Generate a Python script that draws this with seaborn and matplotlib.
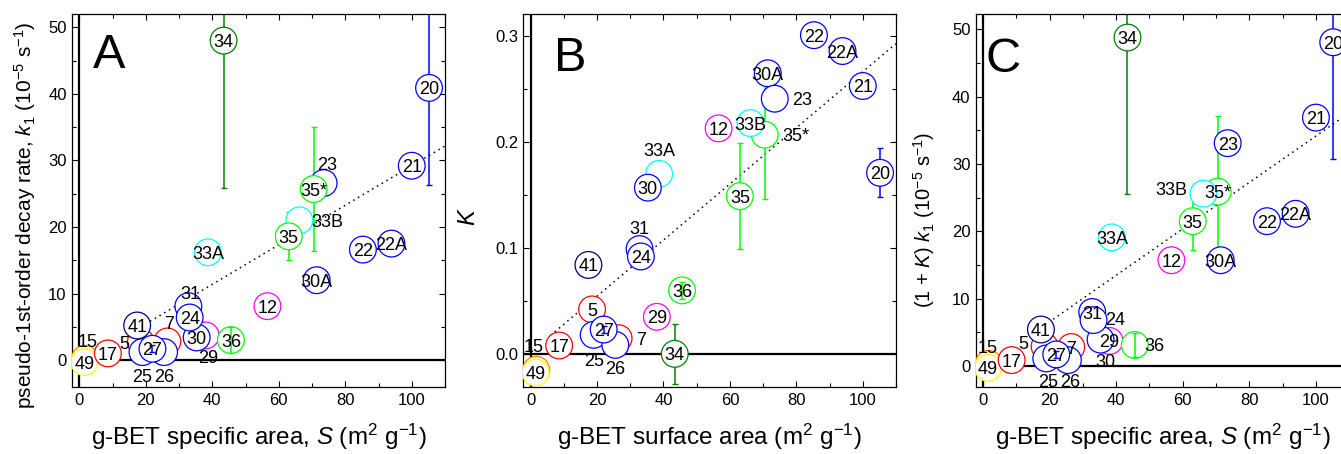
import numpy as np
import pandas as pd
import matplotlib
matplotlib.use("Agg")
import matplotlib.pyplot as plt
import seaborn as sns
from matplotlib.ticker import MultipleLocator, FormatStrFormatter

sns.set_theme(style="ticks", rc={
    "axes.edgecolor": "black", "text.color": "black", "axes.labelcolor": "black",
    "xtick.color": "black", "ytick.color": "black", "axes.linewidth": 0.9,
})
plt.rcParams['font.family'] = ['Liberation Sans', 'DejaVu Sans']
plt.rcParams['mathtext.fontset'] = 'custom'
plt.rcParams['mathtext.rm'] = 'Liberation Sans'
plt.rcParams['mathtext.it'] = 'Liberation Sans:italic'
plt.rcParams['mathtext.bf'] = 'Liberation Sans:bold'

# ---------------- data ----------------
sample_ids = ["15", "49", "17", "5", "7", "25", "26", "27", "41", "33A", "29", "30",
              "31", "24", "36", "12", "34", "22", "22A", "30A", "21", "20", "23",
              "35*", "33B", "35"]
sample_colors = ["#FF8000", "#FFFF00", "#FF0000", "#FF0000", "#FF0000", "#0000FF",
                 "#0000FF", "#0000FF", "#000080", "#00FFFF", "#FF00FF", "#0000FF",
                 "#0000FF", "#0000FF", "#00FF00", "#FF00FF", "#008000", "#0000FF",
                 "#0000FF", "#0000FF", "#0000FF", "#0000FF", "#0000FF",
                 "#00FF00", "#00FFFF", "#00FF00"]
surface_area = [1.7, 1.5, 8.6, 18.5, 26.5, 19.0, 25.5, 22.0, 17.4, 38.7, 38.0, 35.3,
                32.8, 33.2, 45.6, 56.6, 43.4, 85.3, 93.9, 71.4, 100.0, 105.2, 73.5,
                70.5, 66.2, 63.0]
# Panel A: pseudo-first-order decay rate k1 (1e-5 s^-1)
k1 = [0.2, -0.3, 1.0, 2.7, 2.8, 1.2, 1.2, 1.7, 5.2, 16.2, 3.7, 3.4,
      8.1, 6.4, 3.0, 8.1, 48.0, 16.6, 17.5, 12.0, 29.2, 40.9, 26.6,
      25.7, 21.0, 18.6]
k1_err = [0, 0, 0, 0, 0, 0, 0, 0.5, 0, 0, 0, 0,
          0, 0, 1.9, 0, 22.2, 0, 0, 0, 0, 14.6, 0,
          9.3, 0, 3.6]
# Panel B: K
K = [-0.015, -0.0176, 0.0079, 0.042, 0.0148, 0.018, 0.0085, 0.023, 0.084, 0.170,
     0.035, 0.157, 0.099, 0.092, 0.060, 0.213, 0.0, 0.301, 0.286, 0.265, 0.253,
     0.171, 0.241, 0.207, 0.218, 0.149]
K_err = [0, 0, 0, 0, 0, 0, 0, 0.003, 0, 0, 0, 0, 0, 0, 0.008, 0, 0.028, 0, 0, 0, 0,
         0.023, 0, 0.061, 0, 0.05]
# Panel C: (1 + K) k1 (1e-5 s^-1)
k1_total = [0.3, -0.3, 0.85, 2.9, 2.8, 1.1, 0.85, 1.7, 5.4, 19.1, 3.7, 3.9,
            8.0, 6.8, 3.1, 15.7, 48.8, 21.5, 22.6, 15.7, 36.9, 48.1, 33.1,
            25.9, 25.6, 21.5]
k1_total_err = [0, 0, 0, 0, 0, 0, 0, 0.5, 0, 0, 0, 0, 0, 0, 1.8, 0, 23.3, 0, 0, 0, 0,
                17.3, 0, 11.3, 0, 4.3]
# dotted linear fits: (slope, intercept, x_start, x_end)
fit_A = (0.297, -0.5, 17.0, 110.0)
fit_B = (0.00265, 0.0015, 6.0, 110.0)
fit_C = (0.345, -0.34, 17.0, 110.0)

# label offsets in pixels (dx right, dy down) -- layout only
offsets_A = {"23": (3, -20), "33B": (28, 0), "29": (3, 21), "31": (2, -14), "7": (2, -19),
             "5": (-17, 0), "25": (0, 23), "26": (0, 23), "15": (3, -18)}
offsets_B = {"23": (27, 0), "35*": (31, 0), "33A": (0, -24), "31": (0, -22), "25": (0, 25),
             "26": (0, 23), "7": (22, 0), "15": (-3, -24)}
offsets_C = {"33B": (-32, -5), "24": (22, -2), "30": (5, 21), "36": (20, 0), "5": (-21, -4),
             "25": (2, 22), "26": (2, 20), "15": (-1, -17)}

palette = dict(zip(sample_ids, sample_colors))

W, H = 1341, 454
fig = plt.figure(figsize=(W / 100, H / 100), dpi=100)
bottom = (H - 386.7) / H
height = 372.7 / H
axA = fig.add_axes([72 / W, bottom, 373 / W, height])
axB = fig.add_axes([523.3 / W, bottom, 372.7 / W, height])
axC = fig.add_axes([975.7 / W, bottom, 373.5 / W, height])


def draw(ax, yvals, yerrs, offsets, fit):
    slope, icpt, x0, x1 = fit
    xs = np.array([x0, x1])
    ax.plot(xs, slope * xs + icpt, ls=(0, (1, 2.6)), color="black", lw=1.1, zorder=1)
    ax.axhline(0, color="black", lw=1.6, zorder=1.5)
    ax.axvline(0, color="black", lw=1.6, zorder=1.5)
    for xi, yi, ei, sid in zip(surface_area, yvals, yerrs, sample_ids):
        if ei > 0:
            ax.errorbar(xi, yi, yerr=ei, fmt="none", ecolor=palette[sid], elinewidth=1.1,
                        capsize=2.5, capthick=1.0,
                        zorder=4 if sid in ("36", "27") else 2)
    df = pd.DataFrame({"S": surface_area, "y": yvals, "id": sample_ids})
    sns.scatterplot(data=df, x="S", y="y", hue="id", palette=palette, s=370,
                    linewidth=0.9, legend=False, ax=ax, zorder=3)
    coll = ax.collections[-1]
    fc = coll.get_facecolors()
    coll.set_edgecolors(fc)
    coll.set_facecolors("white")
    for xi, yi, sid in zip(surface_area, yvals, sample_ids):
        dx, dy = offsets.get(sid, (0, 0))
        ax.annotate(sid, (xi, yi), xytext=(dx * 0.72, -dy * 0.72),
                    textcoords="offset points", ha="center", va="center_baseline",
                    fontsize=13, zorder=5)
    ax.set_xlim(-2.2, 110)
    ax.xaxis.set_major_locator(MultipleLocator(20))
    ax.xaxis.set_minor_locator(MultipleLocator(10))
    ax.tick_params(which="both", direction="in", top=True, right=True, bottom=True,
                   left=True, width=0.8, colors="black")
    ax.tick_params(which="major", length=4.3, labelsize=12)
    ax.tick_params(which="minor", length=3.0)
    ax.tick_params(axis="x", pad=4.7)
    ax.tick_params(axis="y", pad=3.8)
    for sp in ax.spines.values():
        sp.set_linewidth(0.9)
        sp.set_color("black")


draw(axA, k1, k1_err, offsets_A, fit_A)
axA.set_ylim(-4, 52)
axA.yaxis.set_major_locator(MultipleLocator(10))
axA.yaxis.set_minor_locator(MultipleLocator(5))
axA.set_xlabel(r"g-BET specific area, $S$ (m$^2$ g$^{-1}$)", fontsize=17.5, va="baseline")
axA.set_ylabel(r"pseudo-1st-order decay rate, $k_1$ (10$^{-5}$ s$^{-1}$)", fontsize=15,
               va="baseline")
axA.xaxis.set_label_coords(0.5, -0.156)
axA.yaxis.set_label_coords(-0.108, 0.46)
axA.text(0.056, 0.855, "A", transform=axA.transAxes, fontsize=35, va="baseline", ha="left")

draw(axB, K, K_err, offsets_B, fit_B)
axB.set_ylim(-0.031, 0.321)
axB.yaxis.set_major_locator(MultipleLocator(0.1))
axB.yaxis.set_minor_locator(MultipleLocator(0.05))
axB.yaxis.set_major_formatter(FormatStrFormatter("%.1f"))
axB.set_xlabel(r"g-BET surface area (m$^2$ g$^{-1}$)", fontsize=17.5, va="baseline")
axB.set_ylabel(r"$K$", fontsize=17, va="baseline")
axB.xaxis.set_label_coords(0.5, -0.156)
axB.yaxis.set_label_coords(-0.13, 0.457)
axB.text(0.082, 0.847, "B", transform=axB.transAxes, fontsize=35, va="baseline", ha="left")

draw(axC, k1_total, k1_total_err, offsets_C, fit_C)
axC.set_ylim(-3.1, 52.3)
axC.yaxis.set_major_locator(MultipleLocator(10))
axC.yaxis.set_minor_locator(MultipleLocator(5))
axC.set_xlabel(r"g-BET specific area, $S$ (m$^2$ g$^{-1}$)", fontsize=17.5, va="baseline")
axC.set_ylabel(r"(1 + $K$) $k_1$ (10$^{-5}$ s$^{-1}$)", fontsize=14.5, va="baseline")
axC.xaxis.set_label_coords(0.5, -0.156)
axC.yaxis.set_label_coords(-0.12, 0.447)
axC.text(0.025, 0.845, "C", transform=axC.transAxes, fontsize=35, va="baseline", ha="left")

fig.savefig("out.png", dpi=100)
